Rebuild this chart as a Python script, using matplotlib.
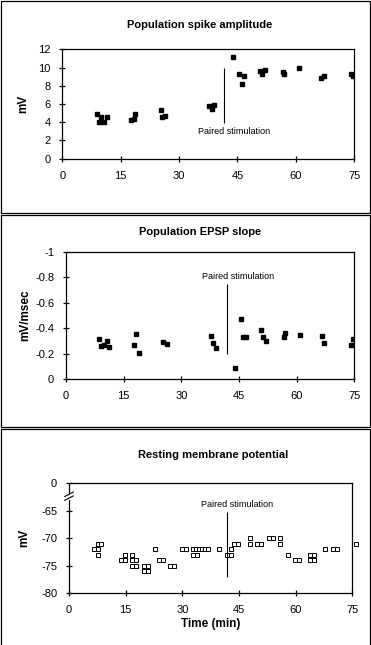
import matplotlib
matplotlib.use('Agg')
import matplotlib.pyplot as plt
from matplotlib.patches import Rectangle

plt.rcParams['font.family'] = ['Liberation Sans', 'DejaVu Sans']
plt.rcParams['axes.unicode_minus'] = False

# Population spike amplitude (mV)
t1 = [8.8, 9.4, 9.9, 10.6, 11.4, 17.6, 18.3, 18.8, 25.3, 25.6, 26.4, 37.6, 38.4, 38.9,
      43.8, 45.5, 46.1, 46.6, 50.7, 51.2, 52.0, 56.6, 56.9, 60.7, 66.4, 67.1, 74.1, 74.7]
v1 = [4.94, 4.06, 4.6, 4.06, 4.6, 4.28, 4.4, 4.94, 5.38, 4.6, 4.72, 5.82, 5.49, 5.93,
      11.2, 9.33, 8.23, 9.1, 9.66, 9.33, 9.77, 9.55, 9.33, 9.99, 8.89, 9.1, 9.33, 9.1]

# Population EPSP slope (mV/msec)
t2 = [8.5, 9.1, 9.9, 10.6, 11.2, 17.6, 18.1, 18.9, 25.2, 26.2, 37.6, 38.2, 38.9,
      43.9, 45.4, 46.0, 46.7, 50.7, 51.2, 52.0, 56.6, 56.9, 60.8, 66.5, 67.0, 74.2, 74.7]
v2 = [-0.319, -0.264, -0.272, -0.303, -0.256, -0.272, -0.358, -0.209, -0.295, -0.279,
      -0.342, -0.287, -0.248, -0.091, -0.475, -0.334, -0.334, -0.389, -0.334, -0.303,
      -0.334, -0.366, -0.35, -0.342, -0.287, -0.272, -0.319]

# Resting membrane potential (mV)
t3 = [6.7, 7.6, 7.6, 7.6, 8.6, 13.8, 14.8, 14.8, 16.6, 16.6, 17.7, 16.6, 17.7,
      19.9, 21.0, 19.9, 21.0, 22.8, 23.8, 24.9, 26.8, 27.9, 30.0, 30.9,
      32.9, 33.7, 34.5, 35.3, 36.1, 36.9, 32.9, 33.8, 39.7, 41.7, 42.8, 42.8,
      43.7, 44.7, 47.9, 47.9, 49.8, 50.8, 53.0, 54.0, 55.9, 55.9, 57.9, 59.8, 60.8,
      63.8, 64.9, 63.8, 64.9, 67.8, 69.9, 71.0]
v3 = [-72, -72, -73, -71, -71, -74, -74, -73, -73, -74, -74, -75, -75,
      -75, -75, -76, -76, -72, -74, -74, -75, -75, -72, -72,
      -72, -72, -72, -72, -72, -72, -73, -73, -72, -73, -73, -72,
      -71, -71, -70, -71, -71, -71, -70, -70, -70, -71, -73, -74, -74,
      -73, -73, -74, -74, -72, -72, -72]
t3_out = [75.9]   # point drawn just past the axis end
v3_out = [-71]

xticks = [0, 15, 30, 45, 60, 75]
stim_t = [41.6, 41.8, 41.7]

W, H = 371, 645
fig = plt.figure(figsize=(W / 100, H / 100), dpi=100)


def px_axes(l, t, r, b):
    return fig.add_axes([l / W, 1 - b / H, (r - l) / W, (b - t) / H])


def style(ax):
    for s in ax.spines.values():
        s.set_linewidth(0.9)
        s.set_color('black')
    ax.tick_params(direction='inout', length=5, width=0.9, labelsize=8, pad=6)
    ax.set_xlim(0, 75)
    ax.set_xticks(xticks)


# panel frames
for top, bot in [(1, 213), (215, 427), (429, 650)]:
    fig.add_artist(Rectangle((1 / W, 1 - bot / H), 369 / W, (bot - top) / H,
                             transform=fig.transFigure, fill=False, lw=0.9,
                             ec='black', clip_on=False))

# --- panel 1
ax1 = px_axes(62.3, 49.3, 354.3, 158.7)
style(ax1)
ax1.plot(t1, v1, 's', color='black', ms=3, mec='black')
ax1.set_ylim(0, 12)
ax1.set_yticks(range(0, 13, 2))
ax1.vlines(stim_t[0], 3.95, 10, color='black', lw=0.8)
ax1.text(44.1, 2.95, 'Paired stimulation', fontsize=6.5, ha='center', va='center')
ax1.set_ylabel('mV', fontsize=8.5, fontweight='bold', labelpad=6)
fig.text(200 / W, 1 - 25 / H, 'Population spike amplitude', fontsize=8,
         fontweight='bold', ha='center', va='center')

# --- panel 2
ax2 = px_axes(66, 251.7, 354.3, 379.3)
style(ax2)
ax2.plot(t2, v2, 's', color='black', ms=3, mec='black')
ax2.set_ylim(0, -1)
ax2.set_yticks([0, -0.2, -0.4, -0.6, -0.8, -1])
ax2.set_yticklabels(['0', '-0.2', '-0.4', '-0.6', '-0.8', '-1'])
ax2.vlines(stim_t[1], -0.2, -0.747, color='black', lw=0.8)
ax2.text(44.8, -0.805, 'Paired stimulation', fontsize=6.5, ha='center', va='center')
ax2.set_ylabel('mV/msec', fontsize=8.5, fontweight='bold', labelpad=3)
fig.text(200 / W, 1 - 232 / H, 'Population EPSP slope', fontsize=8,
         fontweight='bold', ha='center', va='center')

# --- panel 3
ax3 = px_axes(69, 483.3, 352.3, 593.3)
style(ax3)
ax3.plot(t3, v3, 's', ms=2.6, mfc='white', mec='black', mew=0.7)
ax3.plot(t3_out, v3_out, 's', ms=2.6, mfc='white', mec='black', mew=0.7, clip_on=False)
ax3.set_ylim(-80, -60)
ax3.set_yticks([-80, -75, -70, -65, -60])
ax3.set_yticklabels(['-80', '-75', '-70', '-65', '0'])
ax3.vlines(stim_t[2], -77, -65.3, color='black', lw=0.8)
ax3.text(44.4, -63.8, 'Paired stimulation', fontsize=6.5, ha='center', va='center')
ax3.set_ylabel('mV', fontsize=8.5, fontweight='bold', labelpad=8)
ax3.set_xlabel('Time (min)', fontsize=8.5, fontweight='bold', labelpad=2)
# axis break marks
ax3.add_patch(Rectangle((-0.01, 0.85), 0.03, 0.05, transform=ax3.transAxes,
                        fc='white', ec='none', clip_on=False, zorder=5))
for y0 in (0.845, 0.88):
    ax3.plot([-0.015, 0.015], [y0, y0 + 0.04], color='black', lw=0.8,
             transform=ax3.transAxes, clip_on=False, zorder=6)
fig.text(213 / W, 1 - 455 / H, 'Resting membrane potential', fontsize=8,
         fontweight='bold', ha='center', va='center')

fig.savefig('out.png', dpi=100)
